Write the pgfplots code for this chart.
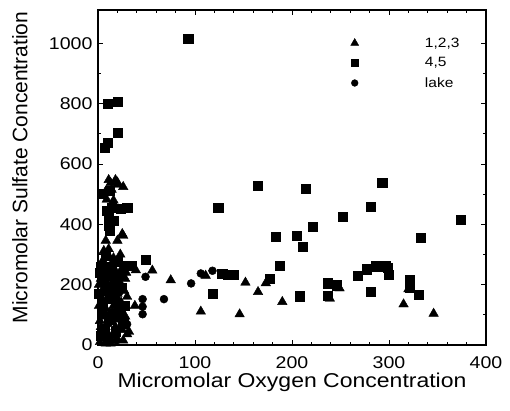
\documentclass[border=0pt]{standalone}
\usepackage{fontspec}
\setmainfont{Liberation Sans}
\newfontfamily\wide[FakeStretch=1.15]{Liberation Sans}
\usepackage{pgfplots}
\pgfplotsset{compat=1.18}
\begin{document}
\begin{tikzpicture}
\begin{axis}[
 scale only axis, width=388pt, height=335pt,
 xmin=0, xmax=400, ymin=0, ymax=1110,
 xtick={0,100,...,400}, ytick={0,200,...,1000},
 minor x tick num=4, minor y tick num=1,
 tick align=inside, major tick length=5pt, minor tick length=3pt,
 axis line style={line width=1.4pt},
 every tick/.style={line width=0.8pt, black},
 /pgf/number format/assume math mode=true,
 /pgf/number format/1000 sep={},
 ticklabel style={font=\wide\fontsize{17}{19}\selectfont},
 xticklabel shift=8pt, yticklabel shift=2pt,
 xlabel={Micromolar Oxygen Concentration},
 ylabel={Micromolar Sulfate Concentration},
 xlabel style={font=\wide\fontsize{20}{22}\selectfont, at={(axis description cs:0.5,-0.128)}, anchor=base},
 ylabel style={font=\fontsize{21}{23}\selectfont, at={(axis description cs:-0.182,0.53)}, anchor=base},
 legend style={draw=none, fill=none, at={(0.64,0.93)}, anchor=north west, font=\wide\fontsize{13.5}{15}\selectfont, row sep=5pt},
 legend cell align=left,
 legend image code/.code={\draw[#1] plot coordinates {(0pt,0pt)}; \path (-5pt,0pt) (68pt,0pt);},
]
% 1,2,3
\addplot[only marks, mark=triangle*, mark size=5.5pt, black, legend image post style={mark size=4.6pt}] table {
x y
106 111
146 102
152 207
165 176
173 205
190 143
239 154
249 188
315 135
320 185
346 104
111 230
56 247
75 215
39 248
32 44
26 362
13 537
20 539
26 524
16 479
7 504
11 547
18 547
20 531
14 515
9 482
25 368
20 346
8 346
11 318
6 312
9 290
16 288
38 130
30 36
2 10
4 25
8 5
12 15
6 40
15 30
20 20
25 50
3 60
10 70
18 60
22 85
5 95
12 105
28 95
8 120
16 130
24 140
4 150
11 165
20 170
27 180
6 190
14 200
22 210
3 220
10 235
18 245
25 255
7 265
15 275
12 290
28 220
30 160
1 130
19 110
9 45
26 15
2 80
14 80
21 150
1 200
9 210
17 225
5 280
23 300
29 240
13 5
24 115
};
\addlegendentry{1,2,3}
% 4,5
\addplot[only marks, mark=square*, mark size=4.6pt, black, legend image post style={mark size=3.6pt}] table {
x y
93 1015
10 800
20 807
20 704
10 671
7 655
5 500
12 510
9 445
14 456
23 451
30 456
11 423
16 412
11 395
12 379
49 283
30 262
35 263
124 456
165 527
214 517
293 538
281 458
252 424
374 416
221 393
183 360
205 363
211 327
333 356
187 263
177 219
118 170
208 162
237 205
246 198
237 163
281 177
268 230
277 251
286 261
296 261
300 233
299 257
321 215
321 190
331 167
128 235
134 232
140 232
3 30
7 55
11 85
16 95
21 120
5 140
13 155
9 180
17 200
23 230
2 240
14 260
20 275
6 210
24 190
1 170
10 20
18 45
27 130
12 230
4 110
15 175
8 295
19 140
26 70
3 260
};
\addlegendentry{4,5}
% lake
\addplot[only marks, mark=*, mark size=4pt, black, legend image post style={mark size=3.4pt}] table {
x y
49 226
96 204
106 237
118 246
46 152
46 127
46 102
68 152
30 69
5 50
15 110
22 175
8 250
19 15
25 100
};
\addlegendentry{lake}
\end{axis}
\pgfresetboundingbox
\path ([shift={(-98pt,-66pt)}]current axis.south west) rectangle ([shift={(24pt,10pt)}]current axis.north east);
\end{tikzpicture}
\end{document}
